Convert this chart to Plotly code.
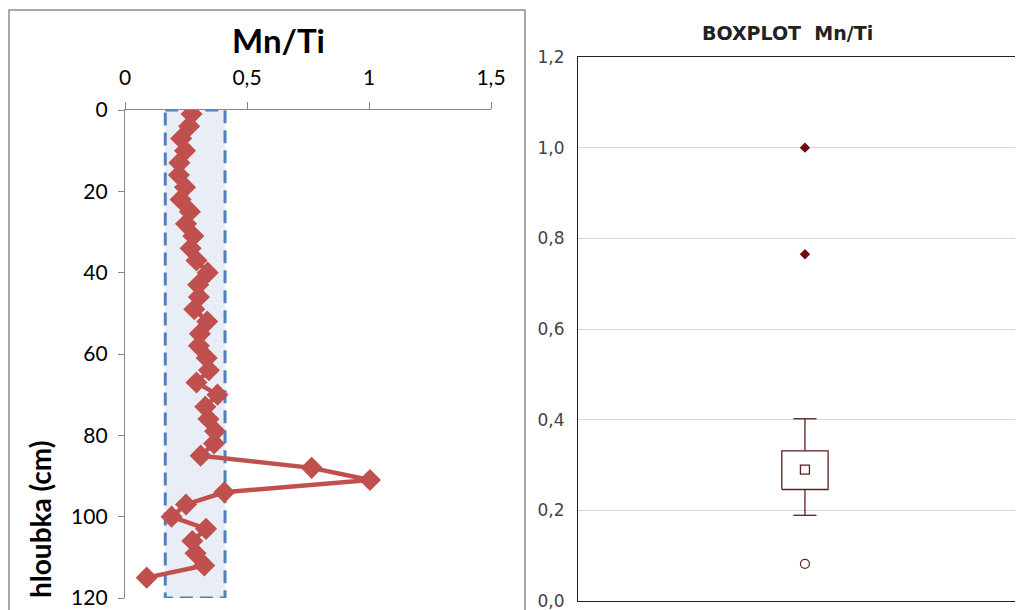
import plotly.graph_objects as go

# ---------------- data ----------------
depth_cm = [1, 4, 7, 10, 13, 16, 19, 22, 25, 28, 31, 34, 37, 40, 43, 46, 49, 52, 55, 58,
            61, 64, 67, 70, 73, 76, 79, 82, 85, 88, 91, 94, 97, 100, 103, 106, 109, 112, 115]
mn_ti = [0.273, 0.263, 0.230, 0.246, 0.223, 0.221, 0.246, 0.228, 0.266, 0.250, 0.280, 0.269,
         0.293, 0.339, 0.300, 0.303, 0.284, 0.337, 0.307, 0.303,
         0.335, 0.344, 0.293, 0.379, 0.329, 0.342, 0.369, 0.365, 0.310, 0.765, 1.004, 0.407,
         0.250, 0.191, 0.332, 0.276, 0.289, 0.325, 0.089]
band_x = [0.165, 0.41]          # background range band (Mn/Ti)
band_depth = [0, 120]

box_stats = {"low": 0.189, "q1": 0.246, "center": 0.290, "q3": 0.331, "high": 0.402}
outliers = [0.082]
extremes = [1.0, 0.765]

left_xticks = [0, 0.5, 1, 1.5]
left_yticks = [0, 20, 40, 60, 80, 100, 120]
right_yticks = [0.0, 0.2, 0.4, 0.6, 0.8, 1.0, 1.2]

# ---------------- style ----------------
RED = "#c0504d"
BOXC = "#5b1f1f"
DARK = "#6e0b0b"
box_pos = 0.0
box_half = 0.052
cap_half = 0.026

# the page body adds an 8px margin; work in figure pixels = reference pixels - 8
OFF = 8
W, H = 1023 - OFF, 610 - OFF


def px(x):
    return (x - OFF) / W


def py(y):
    return 1 - (y - OFF) / H


fig = go.Figure()

# left profile
fig.add_trace(go.Scatter(
    x=mn_ti, y=depth_cm, mode="lines+markers",
    line=dict(color=RED, width=4.5),
    marker=dict(symbol="diamond", size=17, color=RED),
    xaxis="x", yaxis="y", showlegend=False))

# right boxplot (built from stats)
b = box_stats
fig.add_trace(go.Scatter(
    x=[box_pos - box_half, box_pos + box_half, box_pos + box_half, box_pos - box_half, box_pos - box_half],
    y=[b["q1"], b["q1"], b["q3"], b["q3"], b["q1"]],
    mode="lines", line=dict(color=BOXC, width=1.3),
    xaxis="x2", yaxis="y2", showlegend=False))
fig.add_trace(go.Scatter(
    x=[box_pos, box_pos, None, box_pos - cap_half, box_pos + cap_half, None,
       box_pos, box_pos, None, box_pos - cap_half, box_pos + cap_half],
    y=[b["q3"], b["high"], None, b["high"], b["high"], None,
       b["q1"], b["low"], None, b["low"], b["low"]],
    mode="lines", line=dict(color=BOXC, width=1.3),
    xaxis="x2", yaxis="y2", showlegend=False))
fig.add_trace(go.Scatter(
    x=[box_pos], y=[b["center"]], mode="markers",
    marker=dict(symbol="square-open", size=9, color=BOXC, line=dict(width=1.3)),
    xaxis="x2", yaxis="y2", showlegend=False))
fig.add_trace(go.Scatter(
    x=[box_pos] * len(outliers), y=outliers, mode="markers",
    marker=dict(symbol="circle-open", size=9, color=BOXC, line=dict(width=1.2)),
    xaxis="x2", yaxis="y2", showlegend=False))
fig.add_trace(go.Scatter(
    x=[box_pos] * len(extremes), y=extremes, mode="markers",
    marker=dict(symbol="diamond", size=8, color=DARK),
    xaxis="x2", yaxis="y2", showlegend=False))

fig.update_layout(
    width=W, height=H,
    margin=dict(l=0, r=0, t=0, b=0, autoexpand=False),
    paper_bgcolor="white", plot_bgcolor="white",
    separators=", ",
    xaxis=dict(domain=[px(125), px(491)], range=[0, 1.5], side="top", anchor="y",
               automargin=False,
               tickvals=left_xticks, showgrid=False, zeroline=False,
               showline=True, linecolor="#868686", linewidth=1.3,
               ticks="outside", ticklen=7, tickcolor="#868686",
               ticklabelstandoff=8,
               tickfont=dict(family="Lato", size=21, color="black")),
    yaxis=dict(domain=[py(598), py(110)], range=[120, 0], anchor="x",
               automargin=False, ticklabeloverflow="allow",
               tickvals=left_yticks, showgrid=False, zeroline=False,
               showline=True, linecolor="#868686", linewidth=1.3,
               ticks="outside", ticklen=6, tickcolor="#868686",
               ticklabelstandoff=6,
               tickfont=dict(family="Lato", size=21, color="black")),
    xaxis2=dict(domain=[px(578), 1.0], range=[-0.51, 0.49], anchor="y2",
                automargin=False,
                showticklabels=False, showgrid=False, zeroline=False,
                showline=True, mirror=True, linecolor="#222", linewidth=1.2, ticks=""),
    yaxis2=dict(domain=[py(601), py(57)], range=[0, 1.2], anchor="x2",
                automargin=False, ticklabeloverflow="allow",
                tickvals=right_yticks, tickformat=".1f",
                showgrid=True, gridcolor="#d8d8d8", gridwidth=1, zeroline=False,
                showline=True, linecolor="#222", linewidth=1.2, ticks="",
                ticklabelstandoff=9,
                tickfont=dict(family="DejaVu Sans", size=17, color="#444")),
    shapes=[
        dict(type="rect", xref="x", yref="y", x0=band_x[0], x1=band_x[1],
             y0=band_depth[0], y1=band_depth[1], layer="below",
             fillcolor="#e9eef6", line=dict(color="#4f81bd", width=3, dash="13px,7px")),
        dict(type="rect", xref="paper", yref="paper", x0=1 / W, x1=px(525),
             y0=-0.05, y1=py(10), layer="below",
             line=dict(color="#8c8c8c", width=1.5), fillcolor="rgba(0,0,0,0)"),
    ],
    annotations=[
        dict(text="<b>Mn/Ti</b>", xref="paper", yref="paper", x=px(278), y=py(40),
             xanchor="center", yanchor="middle",
             showarrow=False, font=dict(family="Lato", size=33, color="black")),
        dict(text="<b>hloubka (cm)</b>", xref="paper", yref="paper", x=px(40), y=py(519),
             xanchor="center", yanchor="middle",
             showarrow=False, textangle=-90, font=dict(family="Lato", size=28, color="black")),
        dict(text="<b>BOXPLOT  Mn/Ti</b>", xref="paper", yref="paper", x=px(787), y=py(33),
             xanchor="center", yanchor="middle",
             showarrow=False, font=dict(family="DejaVu Sans", size=19, color="#222")),
    ],
)

fig.write_html("out.html")
